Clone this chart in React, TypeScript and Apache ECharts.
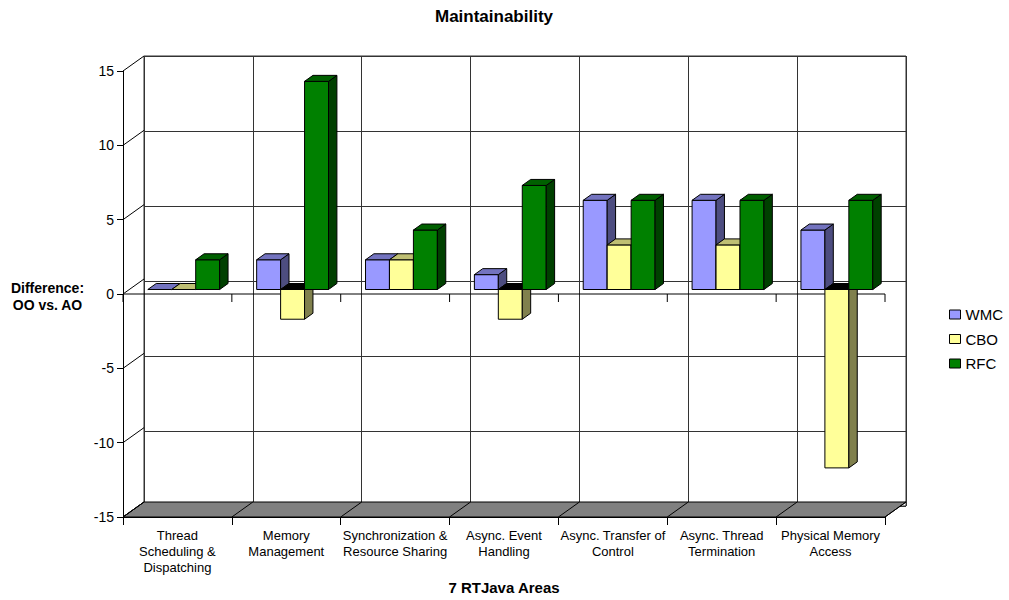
import React, { useEffect, useRef } from "react";
import * as echarts from "echarts";

// Category labels (wrapped the way they are printed under the floor)
const categories = [
  "Thread\nScheduling &\nDispatching",
  "Memory\nManagement",
  "Synchronization &\nResource Sharing",
  "Async. Event\nHandling",
  "Async. Transfer of\nControl",
  "Async. Thread\nTermination",
  "Physical Memory\nAccess",
];

// Difference OO vs. AO per metric
const seriesNames = ["WMC", "CBO", "RFC"];
const wmcValues = [0, 2, 2, 1, 6, 6, 4];
const cboValues = [0, -2, 2, -2, 3, 3, -12];
const rfcValues = [2, 14, 4, 7, 6, 6, 6];
const seriesValues = [wmcValues, cboValues, rfcValues];

// Value axis ticks
const yTicks = [-15, -10, -5, 0, 5, 10, 15];
const yMin = -15;
const yMax = 15;
const yStep = 5;

// Face colours of the 3D bars: front, top, side
const frontColors = ["#9999FF", "#FFFF99", "#008000"];
const topColors = ["#7373BF", "#BFBF73", "#006000"];
const sideColors = ["#4D4D80", "#80804D", "#004000"];
const underTopColor = "#000000";

const FONT = "'Liberation Sans', Arial, Helvetica, sans-serif";

// Front plane of the plot and the depth offset of the back wall
const PLOT = { left: 123, top: 71, width: 762, height: 450 };
const DX = 21;
const DY = -15;
// Bars occupy the middle of the depth, from T0 to T1
const T0 = 0.3;
const T1 = 0.7;
// Horizontal layout inside a category (fractions of the category width)
const GAP = 0.17;
const BAR = 0.22;
const TICK = 8;

function poly(points: number[][], fill: string) {
  return {
    type: "polygon",
    shape: { points },
    style: { fill, stroke: "#000", lineWidth: 1 },
  };
}

function seg(x1: number, y1: number, x2: number, y2: number) {
  return {
    type: "line",
    shape: { x1, y1, x2, y2 },
    style: { stroke: "#000", lineWidth: 1 },
  };
}

function barRenderer(k: number) {
  return (params: any, api: any) => {
    const ci = api.value(0);
    const v = api.value(1);
    const w = api.size([1, 0])[0];
    const c0 = api.coord([ci, 0]);
    const cv = api.coord([ci, v]);
    const left = c0[0] - w / 2 + w * GAP + k * w * BAR + DX * T0;
    const right = left + w * BAR;
    const yZero = c0[1] + DY * T0;
    const yVal = cv[1] + DY * T0;
    const yTop = Math.min(yZero, yVal);
    const yBot = Math.max(yZero, yVal);
    const ddx = DX * (T1 - T0);
    const ddy = DY * (T1 - T0);
    const children: any[] = [];
    if (yBot > yTop) {
      children.push(
        poly(
          [
            [left, yTop],
            [right, yTop],
            [right, yBot],
            [left, yBot],
          ],
          frontColors[k]
        )
      );
      children.push(
        poly(
          [
            [right, yTop],
            [right + ddx, yTop + ddy],
            [right + ddx, yBot + ddy],
            [right, yBot],
          ],
          sideColors[k]
        )
      );
    }
    children.push(
      poly(
        [
          [left, yTop],
          [right, yTop],
          [right + ddx, yTop + ddy],
          [left + ddx, yTop + ddy],
        ],
        v < 0 ? underTopColor : topColors[k]
      )
    );
    return { type: "group", children };
  };
}

function buildOption() {
  const axisLineStyle = { color: "#000", width: 1 };
  const wallLineStyle = { color: "#333", width: 1 };

  // Depth lines from the value axis ticks to the back wall
  const frameSeries = {
    type: "custom",
    name: "frame",
    xAxisIndex: 0,
    yAxisIndex: 0,
    silent: true,
    clip: false,
    data: yTicks.map((t) => [0, t]),
    renderItem: (params: any, api: any) => {
      const x0 = params.coordSys.x;
      const y = api.coord([0, api.value(1)])[1];
      return seg(x0, y, x0 + DX, y + DY);
    },
  };

  // Grey floor, category dividers on it, and the front category line at zero
  const floorSeries = {
    type: "custom",
    name: "floor",
    xAxisIndex: 0,
    yAxisIndex: 0,
    silent: true,
    clip: false,
    data: [[0, yMin]],
    renderItem: (params: any, api: any) => {
      const w = api.size([1, 0])[0];
      const y = api.coord([0, yMin])[1];
      const yz = api.coord([0, 0])[1];
      const xs: number[] = [];
      for (let i = 0; i <= categories.length; i++) {
        xs.push(api.coord([i, yMin])[0] - w / 2);
      }
      const x0 = xs[0];
      const x1 = xs[xs.length - 1];
      const children: any[] = [
        poly(
          [
            [x0, y],
            [x1, y],
            [x1 + DX, y + DY],
            [x0 + DX, y + DY],
          ],
          "#808080"
        ),
        seg(x0, yz, x1, yz),
      ];
      xs.forEach((x) => {
        children.push(seg(x, y, x + DX, y + DY));
        children.push(seg(x, yz, x, yz + TICK));
      });
      return { type: "group", children };
    },
  };

  const bars = seriesNames.map((name, k) => ({
    type: "custom",
    name,
    xAxisIndex: 0,
    yAxisIndex: 0,
    clip: false,
    itemStyle: { color: frontColors[k] },
    encode: { x: 0, y: 1 },
    data: seriesValues[k].map((v, i) => [i, v]),
    renderItem: barRenderer(k),
  }));

  return {
    animation: false,
    backgroundColor: "#fff",
    textStyle: { fontFamily: FONT, color: "#000" },
    title: {
      text: "Maintainability",
      left: 494,
      top: 8,
      textAlign: "center",
      padding: 0,
      textStyle: { fontFamily: FONT, fontSize: 17, fontWeight: "bold", color: "#000" },
    },
    legend: {
      orient: "vertical",
      left: 944,
      top: 302,
      icon: "rect",
      itemWidth: 11,
      itemHeight: 9,
      itemGap: 9.5,
      itemStyle: { borderColor: "#000", borderWidth: 1 },
      textStyle: { fontFamily: FONT, fontSize: 15, color: "#000" },
      data: seriesNames,
      selectedMode: false,
    },
    grid: [
      { ...PLOT, show: false },
      {
        left: PLOT.left + DX,
        top: PLOT.top + DY,
        width: PLOT.width,
        height: PLOT.height,
        show: true,
        borderColor: "#333",
        borderWidth: 1,
        backgroundColor: "transparent",
      },
    ],
    xAxis: [
      {
        type: "category",
        gridIndex: 0,
        data: categories,
        position: "bottom",
        axisLine: { show: true, onZero: false, lineStyle: axisLineStyle },
        axisTick: { show: true, interval: 0, length: TICK, lineStyle: axisLineStyle },
        axisLabel: {
          interval: 0,
          margin: 10,
          fontSize: 13,
          lineHeight: 16,
          color: "#000",
          fontFamily: FONT,
        },
        splitLine: { show: false },
        name: "7 RTJava Areas",
        nameLocation: "middle",
        nameGap: 63,
        nameTextStyle: { fontFamily: FONT, fontSize: 15, fontWeight: "bold", color: "#000" },
      },
      {
        type: "category",
        gridIndex: 1,
        data: categories,
        axisLine: { show: false },
        axisTick: { show: false, interval: 0 },
        axisLabel: { show: false, interval: 0 },
        splitLine: { show: true, interval: 0, lineStyle: wallLineStyle },
      },
    ],
    yAxis: [
      {
        type: "value",
        gridIndex: 0,
        min: yMin,
        max: yMax,
        interval: yStep,
        axisLine: { show: true, lineStyle: axisLineStyle },
        axisTick: { show: true, length: 6, lineStyle: axisLineStyle },
        axisLabel: { margin: 9, fontSize: 14, color: "#000", fontFamily: FONT },
        splitLine: { show: false },
      },
      {
        type: "value",
        gridIndex: 1,
        min: yMin,
        max: yMax,
        interval: yStep,
        axisLine: { show: false },
        axisTick: { show: false },
        axisLabel: { show: false },
        splitLine: { show: true, lineStyle: wallLineStyle },
      },
    ],
    graphic: [
      {
        type: "text",
        x: 47.5,
        y: 296.5,
        style: {
          text: "Difference:\nOO vs. AO",
          fontFamily: FONT,
          fontSize: 14,
          fontWeight: "bold",
          lineHeight: 17,
          align: "center",
          verticalAlign: "middle",
          fill: "#000",
        },
      },
    ],
    series: [floorSeries, frameSeries, ...bars],
  };
}

export default function App() {
  const ref = useRef<HTMLDivElement>(null);
  useEffect(() => {
    const chart = echarts.init(ref.current!, null, { renderer: "svg" });
    chart.setOption(buildOption() as any);
    return () => chart.dispose();
  }, []);
  return (
    <div
      ref={ref}
      style={{ position: "fixed", left: 0, top: 0, width: 1009, height: 600, background: "#fff" }}
    />
  );
}
